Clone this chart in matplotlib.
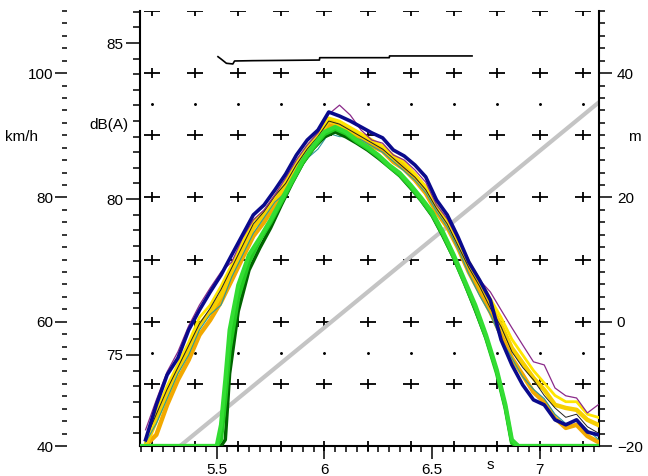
import matplotlib
matplotlib.use('Agg')
import matplotlib.pyplot as plt
import numpy as np
from matplotlib.ticker import MultipleLocator, FormatStrFormatter

plt.rcParams['font.family'] = ['Liberation Sans', 'DejaVu Sans']
plt.rcParams['font.size'] = 11

# measured time base (s)
t = [5.17, 5.22, 5.27, 5.32, 5.37, 5.42, 5.47, 5.52, 5.57, 5.62,
     5.67, 5.72, 5.77, 5.82, 5.87, 5.92, 5.97, 6.02, 6.07, 6.12,
     6.17, 6.22, 6.27, 6.32, 6.37, 6.42, 6.47, 6.52, 6.57, 6.62,
     6.67, 6.72, 6.77, 6.82, 6.87, 6.92, 6.97, 7.02, 7.07, 7.12,
     7.17, 7.22, 7.27]

# measured levels dB(A)
navy = [72.28, 73.40, 74.36, 74.90, 75.80, 76.44, 77.02, 77.56, 78.21, 78.85,
        79.49, 79.81, 80.29, 80.80, 81.41, 81.89, 82.21, 82.79, 82.66, 82.50,
        82.31, 82.12, 81.96, 81.57, 81.38, 81.09, 80.71, 79.97, 79.49, 78.78,
        77.98, 77.40, 76.76, 75.48, 74.68, 74.04, 73.56, 73.40, 72.92, 72.76,
        72.92, 72.53, 72.44]
yellow = [72.08, 72.92, 73.72, 74.52, 75.16, 75.96, 76.38, 76.92, 77.66, 78.37,
          79.07, 79.49, 79.97, 80.45, 80.99, 81.57, 81.96, 82.53, 82.37, 82.21,
          82.02, 81.83, 81.67, 81.31, 81.09, 80.77, 80.35, 79.71, 79.26, 78.59,
          77.88, 77.24, 76.60, 75.96, 75.22, 74.74, 74.26, 73.88, 73.40, 73.30,
          73.24, 72.92, 72.76]
orange = [72.10, 72.44, 73.40, 74.20, 74.84, 75.64, 76.12, 76.70, 77.40, 78.11,
          78.81, 79.26, 79.81, 80.29, 80.87, 81.41, 81.83, 82.37, 82.28, 82.08,
          81.89, 81.70, 81.54, 81.19, 80.96, 80.61, 80.19, 79.58, 79.10, 78.43,
          77.66, 77.02, 76.38, 75.64, 74.90, 74.36, 73.81, 73.49, 72.98, 72.66,
          72.76, 72.40, 72.21]
gold = [72.2, 73.2, 74.0, 74.7, 75.4, 76.2, 76.6, 77.2, 77.9, 78.6,
        79.3, 79.6, 80.1, 80.6, 81.2, 81.7, 82.1, 82.6, 82.5, 82.3,
        82.1, 81.9, 81.7, 81.4, 81.2, 80.8, 80.4, 79.8, 79.3, 78.7,
        78.0, 77.4, 76.8, 76.2, 75.5, 75.0, 74.5, 74.1, 73.7, 73.5,
        73.5, 73.1, 73.0]
purple = [72.60, 73.56, 74.46, 75.10, 75.93, 76.60, 77.15, 77.66, 77.98, 78.75,
          79.33, 79.65, 80.13, 80.67, 81.25, 81.73, 82.12, 82.72, 83.01, 82.69,
          82.21, 81.89, 81.79, 81.41, 81.25, 80.93, 80.54, 79.81, 79.36, 78.69,
          77.98, 77.40, 77.02, 76.44, 75.87, 75.32, 74.78, 74.68, 73.94, 73.69,
          73.62, 73.14, 73.40]
black = [72.3, 73.1, 73.9, 74.6, 75.3, 76.0, 76.5, 77.1, 77.8, 78.5,
         79.2, 79.6, 80.1, 80.5, 81.1, 81.6, 82.0, 82.5, 82.4, 82.2,
         82.0, 81.8, 81.6, 81.3, 81.0, 80.7, 80.3, 79.7, 79.2, 78.5,
         77.8, 77.2, 76.5, 75.9, 75.1, 74.6, 74.2, 73.7, 73.3, 73.0,
         73.1, 72.7, 72.5]
teal = [72.2, 72.8, 73.6, 74.4, 75.0, 75.8, 76.3, 76.6, 77.5, 78.2,
        78.9, 79.4, 79.9, 80.2, 80.8, 81.3, 81.6, 82.1, 82.0, 82.0,
        81.9, 81.7, 81.5, 81.2, 80.9, 80.6, 80.2, 79.6, 79.1, 78.4,
        77.6, 76.9, 76.3, 75.5, 74.9, 74.3, 73.9, 73.6, 73.1, 72.8,
        72.9, 72.6, 72.3]

# calculated levels dB(A)
green_t = [5.15, 5.50, 5.52, 5.54, 5.56, 5.60, 5.65, 5.70, 5.75, 5.80,
           5.85, 5.90, 5.95, 6.00, 6.05, 6.10, 6.15, 6.20, 6.25, 6.30,
           6.35, 6.40, 6.45, 6.50, 6.55, 6.60, 6.65, 6.70, 6.75, 6.80,
           6.84, 6.87, 6.90, 7.27]
green_a = [60, 71.0, 72.76, 74.20, 75.80, 77.24, 78.21, 78.75, 79.33, 79.97,
           80.61, 81.25, 81.73, 82.15, 82.31, 82.15, 81.89, 81.67, 81.41, 81.09,
           80.83, 80.45, 80.03, 79.58, 78.94, 78.21, 77.40, 76.60, 75.64, 74.52,
           73.40, 72.28, 71.0, 60]
green_b = [60, 70.5, 72.28, 73.56, 75.16, 76.83, 77.98, 78.69, 79.25, 79.90,
           80.55, 81.18, 81.66, 82.08, 82.25, 82.10, 81.84, 81.62, 81.36, 81.04,
           80.77, 80.39, 79.96, 79.50, 78.86, 78.13, 77.32, 76.50, 75.55, 74.42,
           73.30, 72.18, 70.8, 60]
green_dark = [60, 68.0, 71.0, 72.28, 74.40, 76.40, 77.72, 78.43, 79.07, 79.81,
              80.51, 81.15, 81.63, 81.99, 82.15, 81.99, 81.79, 81.57, 81.31, 81.03,
              80.74, 80.35, 79.94, 79.46, 78.81, 78.11, 77.31, 76.44, 75.54, 74.46,
              73.30, 72.18, 71.0, 60]

# speed km/h
speed_t = [5.506, 5.522, 5.545, 5.575, 5.583, 5.667, 5.977, 5.978, 6.301, 6.302, 6.685]
speed_v = [102.64, 102.22, 101.58, 101.47, 101.95, 102.0, 102.1, 102.48, 102.48, 102.76, 102.76]

# position m
pos_t = [5.33, 7.27]
pos_m = [-20, 35.2]

# marker grid
grid_t = [5.2, 5.4, 5.6, 5.8, 6.0, 6.2, 6.4, 6.6, 6.8, 7.0, 7.2]
plus_m = [-20, -10, 0, 10, 20, 30, 40]
top_m = [50]
dot_m = [35, -5]

db_min, db_max = 72.08, 86.03

fig = plt.figure(figsize=(6.48, 4.76), dpi=100)
ax = fig.add_axes([0.216, 0.063, 0.708, 0.914])
axd = ax.twinx()
axk = ax.twinx()

# m axis (right) - grid markers and position
ax.set_xlim(5.144, 7.273)
ax.set_ylim(-20, 50)
for rows, clip in [(plus_m, False), (top_m, True)]:
    for m in rows:
        ax.plot(grid_t, [m] * len(grid_t), '_', color='black', ms=12, mew=1.3, clip_on=clip, zorder=1)
        ax.plot(grid_t, [m] * len(grid_t), '|', color='black', ms=7.5, mew=1.3, clip_on=clip, zorder=1)
for m in dot_m:
    ax.plot(grid_t, [m] * len(grid_t), '.', color='black', ms=2.2, zorder=1)
ax.plot(pos_t, pos_m, color='#c4c4c4', lw=3, zorder=2)

ax.yaxis.tick_right()
ax.yaxis.set_major_locator(MultipleLocator(20))
ax.yaxis.set_minor_locator(MultipleLocator(2))
ax.tick_params(axis='y', which='major', length=9, width=1.1, pad=4)
ax.tick_params(axis='y', which='minor', length=4.5, width=1.1)
ax.xaxis.set_major_locator(MultipleLocator(0.5))
ax.xaxis.set_major_formatter(FormatStrFormatter('%g'))
ax.xaxis.set_minor_locator(MultipleLocator(0.05))
ax.tick_params(axis='x', which='major', length=9, width=1.1, pad=3)
ax.tick_params(axis='x', which='minor', length=4.5, width=1.1)
ax.spines['top'].set_visible(False)
for s in ['left', 'right', 'bottom']:
    ax.spines[s].set_linewidth(1.5)

# dB axis (inner left)
axd.set_ylim(db_min, db_max)
axd.yaxis.tick_left()
axd.yaxis.set_major_locator(MultipleLocator(5))
axd.yaxis.set_minor_locator(MultipleLocator(0.5))
axd.tick_params(axis='y', which='major', length=10, width=1.1, pad=2)
axd.tick_params(axis='y', which='minor', length=5, width=1.1)
for s in axd.spines.values():
    s.set_visible(False)

measured = [
    (orange, '#f2a900', 3.2),
    (yellow, '#f7cf00', 3.2),
    (gold, '#ffe600', 2.0),
    (teal, '#2a9a9a', 0.8),
    (black, '#202020', 0.7),
    (purple, '#8a2a8a', 0.9),
    (navy, '#0a0a8c', 2.6),
]
for vals, col, lw in measured:
    axd.plot(t, vals, color=col, lw=lw, zorder=3)

axd.plot(green_t, np.maximum(green_dark, db_min), color='#006400', lw=2.5, zorder=4)
axd.plot(green_t, np.maximum(green_b, db_min), color='#22cc22', lw=3, zorder=4)
axd.plot(green_t, np.maximum(green_a, db_min), color='#33dd33', lw=3, zorder=4)

# km/h axis (outer left)
axk.set_ylim(40, 110)
axk.yaxis.tick_left()
axk.spines['left'].set_position(('axes', -0.160))
for s in axk.spines.values():
    s.set_visible(False)
axk.yaxis.set_major_locator(MultipleLocator(20))
axk.yaxis.set_minor_locator(MultipleLocator(2))
axk.tick_params(axis='y', which='major', length=8.5, width=1.1, pad=1)
axk.tick_params(axis='y', which='minor', length=3.6, width=1.1)
axk.plot(speed_t, speed_v, color='black', lw=1.2, zorder=5)

fig.text(5 / 648, 1 - 137 / 476, 'km/h', ha='left', va='center', fontsize=11)
fig.text(128 / 648, 1 - 125 / 476, 'dB(A)', ha='right', va='center', fontsize=11)
fig.text(628 / 648, 1 - 137 / 476, 'm', ha='left', va='center', fontsize=11)
fig.text(490 / 648, 1 - 465 / 476, 's', ha='center', va='center', fontsize=11)

fig.savefig('out.png', dpi=100)
